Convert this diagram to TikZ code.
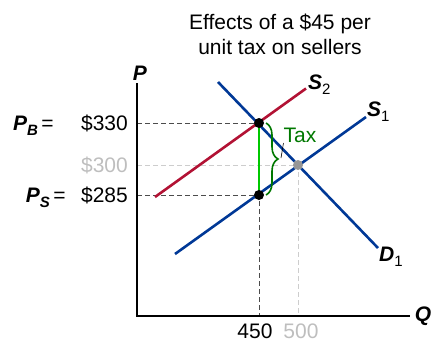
\documentclass[tikz,border=0pt]{standalone}
\usepackage{fontspec}
\setmainfont{Liberation Sans}
\usetikzlibrary{positioning,calc,decorations.pathreplacing}
\definecolor{supred}{RGB}{178,18,52}
\definecolor{curveblue}{RGB}{0,56,150}
\definecolor{taxgreen}{RGB}{0,200,0}
\definecolor{bracegreen}{RGB}{0,120,0}
\definecolor{oldgray}{RGB}{190,190,190}
\definecolor{dashgray}{RGB}{205,205,205}
\definecolor{dotgray}{RGB}{150,150,150}
\newcommand{\lowsub}[1]{\raisebox{-5pt}{\fontsize{15}{15}\selectfont#1}}
\newcommand{\numsub}[1]{\lowsub{\mdseries\upshape#1}}

\begin{document}
\begin{tikzpicture}[x=1pt,y=-1pt,
    txt/.style={font=\fontsize{21}{25}\selectfont,inner sep=0pt},
    var/.style={font=\fontsize{21}{25}\selectfont\bfseries\itshape,inner sep=0pt},
    curve/.style={line width=2.6pt},
    guide/.style={line width=0.9pt,dash pattern=on 5pt off 3pt},
    dot/.style={circle,inner sep=0pt,minimum size=10pt}]
  \useasboundingbox (0,0) rectangle (438,345);
  % title
  \node[txt,align=center] (title) at (280,34) {Effects of a \$45 per\\unit tax on sellers};
  % axes
  \coordinate (O) at (137,316);
  \coordinate (ytop) at (137,83);
  \coordinate (xend) at (410,316);
  \node[var] (plab) at (140,73) {P};
  \node[var] (qlab) at (423,316) {Q};
  % equilibria
  \coordinate (eb) at (259,123);
  \coordinate (es) at (259,195);
  \coordinate (e0) at (298,165);
  \coordinate (yb) at (137,123);
  \coordinate (ys) at (137,195);
  \coordinate (y0) at (137,165);
  \coordinate (xq) at (259,316);
  \coordinate (x0) at (298,316);
  % guide lines
  \draw[guide,dashgray] (y0) -- (e0) -- (x0);
  \draw[guide,black!70] (yb) -- (eb);
  \draw[guide,black!70] (ys) -- (es) -- (xq);
  \draw[line width=1.5pt] (ytop) -- (O) -- (xend);
  % curves
  \coordinate (s2a) at (155,197);
  \coordinate (s2b) at (306,88.5);
  \coordinate (s1a) at (175,254);
  \coordinate (s1b) at (366,117);
  \coordinate (d1a) at (218,82);
  \coordinate (d1b) at (378,248);
  \draw[curve,supred] (s2a) -- (s2b);
  \draw[curve,curveblue] (s1a) -- (s1b);
  \draw[curve,curveblue] (d1a) -- (d1b);
  \node[var,anchor=base west] (s2lab) at (308,89) {S\numsub{2}};
  \node[var,anchor=base west] (s1lab) at (367,116) {S\numsub{1}};
  \node[var,anchor=base west] (d1lab) at (379,261) {D\numsub{1}};
  % tax wedge
  \draw[taxgreen,line width=2.8pt] (eb) -- (es);
  \coordinate (brtop) at (266,123);
  \coordinate (brbot) at (266,195);
  \draw[bracegreen,line width=1.6pt,decorate,decoration={brace,amplitude=12pt}]
    (brtop) -- (brbot);
  \coordinate (brtip) at (281,158);
  \node[txt,text=bracegreen] (tax) at (300,135.5) {Tax};
  \draw[line width=0.6pt] (brtip) -- (tax.south west);
  \node[dot,fill=black] (nb) at (eb) {};
  \node[dot,fill=black] (ns) at (es) {};
  \node[dot,fill=dotgray] (n0) at (e0) {};
  % price labels
  \node[txt,left=9pt of yb] (p330) {\$330};
  \node[txt,left=9pt of y0,text=oldgray] (p300) {\$300};
  \node[txt,left=9pt of ys] (p285) {\$285};
  \node[var,left=27pt of p330.base west,anchor=base east] (pb) {P\lowsub{B}\,\textmd{\textup{=}}};
  \node[var,left=15pt of p285.base west,anchor=base east] (ps) {P\lowsub{S}\,\textmd{\textup{=}}};
  % quantity labels
  \node[txt,below=8pt of xq,xshift=-4pt] (q450) {450};
  \node[txt,below=8pt of x0,xshift=3pt,text=oldgray] (q500) {500};
\end{tikzpicture}
\end{document}
